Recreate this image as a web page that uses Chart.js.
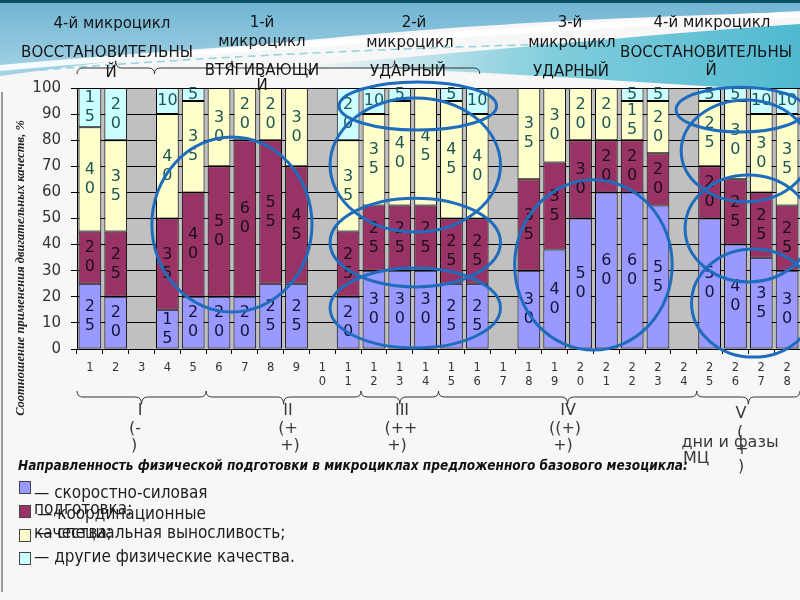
<!DOCTYPE html>
<html>
<head>
<meta charset="utf-8">
<script src="https://cdn.jsdelivr.net/npm/chart.js@4.4.1/dist/chart.umd.min.js"></script>
<style>
  html, body { margin: 0; padding: 0; }
  body { width: 800px; height: 600px; position: relative; overflow: hidden; background: #f7f7f7; font-family: "DejaVu Sans", sans-serif; }
  #bg { position: absolute; left: 0; top: 0; }
  #frame { position: absolute; left: 1px; top: 92px; width: 0; height: 500px; border-left: 2px solid #9a9a9a; }
  #chart { position: absolute; left: 0; top: 0; }
  .t { position: absolute; white-space: nowrap; transform: translate(-50%, -50%); font-size: 15px; color: #151515; line-height: 1; }
  .b { position: absolute; white-space: nowrap; transform: translateY(-50%); line-height: 1; }
  .ph { color: #3a3a3a; font-size: 16px; }
  #ytitle { position: absolute; left: 20px; top: 268px; transform: translate(-50%, -50%) rotate(-90deg); white-space: nowrap;
            font: bold italic 12.5px "Liberation Serif", serif; color: #222; }
  #note { left: 18px; top: 465px; font: bold italic 13.5px "Liberation Sans Narrow", "DejaVu Sans Condensed", sans-serif; color: #111; }
  .lg { font: 17px "DejaVu Sans Condensed", "DejaVu Sans", sans-serif; color: #1e1e1e; }
  .sw { position: absolute; width: 10px; height: 11px; border: 1px solid #444; }
</style>
</head>
<body>
<svg id="bg" width="800" height="100">
  <defs>
    <linearGradient id="g1" x1="0" y1="0" x2="0" y2="1">
      <stop offset="0" stop-color="#6fb3d2"/>
      <stop offset="1" stop-color="#a6d4e6"/>
    </linearGradient>
    <linearGradient id="g2" x1="0" y1="0" x2="1" y2="0">
      <stop offset="0" stop-color="#6cc6d8" stop-opacity="0"/>
      <stop offset="0.5" stop-color="#6cc6d8" stop-opacity="0.85"/>
      <stop offset="1" stop-color="#4fb9d0"/>
    </linearGradient>
  </defs>
  <path d="M0,0 H800 V12 C600,18 450,26 330,38 C200,50 100,62 0,76 Z" fill="url(#g1)"/>
  <path d="M300,66 C480,52 650,34 800,24 V92 C700,86 560,76 420,70 C370,68 330,67 300,66 Z" fill="url(#g2)"/>
  <path d="M0,68 C200,50 450,34 800,14" stroke="#ffffff" stroke-width="6" fill="none" opacity="0.9"/>
  <path d="M40,70 C220,56 400,48 560,44" stroke="#8fd3dc" stroke-width="1.5" stroke-dasharray="8 5" fill="none"/>
  <rect x="0" y="0" width="800" height="3" fill="#0d4d63"/>
</svg>
<div id="frame"></div>
<canvas id="chart" width="800" height="600"></canvas>

<div class="t" style="left:112px;top:23px">4-й микроцикл</div>
<div class="t" style="left:107px;top:52px">ВОССТАНОВИТЕЛЬНЫ</div>
<div class="t" style="left:111px;top:72px">Й</div>
<div class="t" style="left:262px;top:22px">1-й</div>
<div class="t" style="left:262px;top:41px">микроцикл</div>
<div class="t" style="left:262px;top:70px">ВТЯГИВАЮЩИ</div>
<div class="t" style="left:262px;top:85px">Й</div>
<div class="t" style="left:414px;top:22px">2-й</div>
<div class="t" style="left:410px;top:42px">микроцикл</div>
<div class="t" style="left:408px;top:71px">УДАРНЫЙ</div>
<div class="t" style="left:570px;top:22px">3-й</div>
<div class="t" style="left:572px;top:42px">микроцикл</div>
<div class="t" style="left:571px;top:71px">УДАРНЫЙ</div>
<div class="t" style="left:712px;top:22px">4-й микроцикл</div>
<div class="t" style="left:706px;top:52px">ВОССТАНОВИТЕЛЬНЫ</div>
<div class="t" style="left:711px;top:70px">Й</div>

<div class="t ph" style="left:140px;top:410px">I</div>
<div class="t ph" style="left:135px;top:428px">(-</div>
<div class="t ph" style="left:134px;top:445px">)</div>
<div class="t ph" style="left:288px;top:410px">II</div>
<div class="t ph" style="left:288px;top:428px">(+</div>
<div class="t ph" style="left:290px;top:445px">+)</div>
<div class="t ph" style="left:402px;top:410px">III</div>
<div class="t ph" style="left:401px;top:428px">(++</div>
<div class="t ph" style="left:397px;top:445px">+)</div>
<div class="t ph" style="left:568px;top:410px">IV</div>
<div class="t ph" style="left:565px;top:428px">((+)</div>
<div class="t ph" style="left:563px;top:445px">+)</div>
<div class="t ph" style="left:741px;top:413px">V</div>
<div class="t ph" style="left:740px;top:432px">(</div>
<div class="t ph" style="left:742px;top:449px">+</div>
<div class="t ph" style="left:741px;top:466px">)</div>
<div class="t ph" style="left:730px;top:442px">дни и фазы</div>
<div class="b ph" style="left:683px;top:458px">МЦ</div>

<div id="ytitle">Соотношение применения двигательных качеств, %</div>
<div class="b" id="note">Направленность физической подготовки в микроциклах предложенного базового мезоцикла:</div>

<div class="sw" id="sw0" style="left:19px;top:481px"></div>
<div class="sw" id="sw1" style="left:19px;top:505px"></div>
<div class="sw" id="sw2" style="left:19px;top:529px"></div>
<div class="sw" id="sw3" style="left:19px;top:552px"></div>
<div class="b lg" style="left:34px;top:492px">— скоростно-силовая</div>
<div class="b lg" style="left:34px;top:508px">подготовка;</div>
<div class="b lg" style="left:37px;top:513px">— координационные</div>
<div class="b lg" style="left:34px;top:532px">качества;</div>
<div class="b lg" style="left:37px;top:532px">— специальная выносливость;</div>
<div class="b lg" style="left:34px;top:556px">— другие физические качества.</div>

<script>
// days of the base mesocycle (rest days are empty)
const days = ["1","2","3","4","5","6","7","8","9","10","11","12","13","14",
              "15","16","17","18","19","20","21","22","23","24","25","26","27","28"];

const speedStrength = [25,20,null,15,20,20,20,25,25,null,20,30,30,30,25,25,null,30,40,50,60,60,55,null,50,40,35,30];
const coordination  = [20,25,null,35,40,50,60,55,45,null,25,25,25,25,25,25,null,35,35,30,20,20,20,null,20,25,25,25];
const endurance     = [40,35,null,40,35,30,20,20,30,null,35,35,40,45,45,40,null,35,30,20,20,15,20,null,25,30,30,35];
const otherQual     = [15,20,null,10,5,null,null,null,null,null,20,10,5,null,5,10,null,null,null,null,null,5,5,null,5,5,10,10];

const seriesNames = ["скоростно-силовая подготовка", "координационные качества", "специальная выносливость", "другие физические качества"];
const seriesColors = ["#9999ff", "#993366", "#ffffcc", "#ccffff"];
const labelColors = ["#14143a", "#1a0f1a", "#1d5656", "#1d5656"];
const yTicks = [0,10,20,30,40,50,60,70,80,90,100];

// phases under the axis (day ranges) and microcycle braces above the plot
const phases = [[0.5, 5.5], [5.5, 11.5], [11.5, 14.5], [14.5, 24.5], [24.5, 28.5]];
const cycles = [[0.5, 3.5], [3.5, 9.5], [9.5, 16.1]];

// hand-drawn highlight ovals: [day, value, half-width in days, half-height in %]
const ovals = [
  [6.5, 47.7, 3.1, 33.5],
  [13.7, 93.1, 3.05, 9.2],
  [13.6, 70.5, 3.3, 25.7],
  [13.6, 40.8, 3.3, 17],
  [13.6, 15.7, 3.3, 15.3],
  [20.5, 32.2, 3.05, 32.6],
  [26.2, 91.7, 2.5, 8.6],
  [26.4, 75.9, 2.5, 19.5],
  [26.5, 46.2, 2.45, 20.5],
  [26.7, 17.6, 2.4, 20.7]
];

const raw = [speedStrength, coordination, endurance, otherQual];
const totals = days.map((d, i) => raw.reduce((s, arr) => s + (arr[i] || 0), 0));

seriesColors.forEach((c, i) => { document.getElementById("sw" + i).style.background = c; });

const plotBg = {
  id: "plotBg",
  beforeDraw(chart) {
    const { ctx, chartArea: a } = chart;
    ctx.save();
    ctx.fillStyle = "#c0c0c0";
    ctx.fillRect(a.left, a.top, a.right - a.left, a.bottom - a.top);
    ctx.restore();
  }
};

const valueLabels = {
  id: "valueLabels",
  afterDatasetsDraw(chart) {
    const ctx = chart.ctx;
    ctx.save();
    ctx.font = "16px 'DejaVu Sans'";
    ctx.textAlign = "center";
    ctx.textBaseline = "middle";
    chart.data.datasets.forEach((ds, di) => {
      chart.getDatasetMeta(di).data.forEach((bar, i) => {
        const v = raw[di][i];
        if (!v) return;
        const h = bar.base - bar.y;
        const lines = h < 30 ? [String(v)] : String(v).split("");
        const cy = (bar.y + bar.base) / 2;
        ctx.fillStyle = labelColors[di];
        lines.forEach((ln, k) => ctx.fillText(ln, bar.x, cy + (k - (lines.length - 1) / 2) * 19));
      });
    });
    ctx.restore();
  }
};

function brace(ctx, x1, x2, y, dir) {
  const xm = (x1 + x2) / 2, c = 6 * dir;
  ctx.beginPath();
  ctx.moveTo(x1, y - c);
  ctx.quadraticCurveTo(x1, y, x1 + 6, y);
  ctx.lineTo(xm - 6, y);
  ctx.quadraticCurveTo(xm, y, xm, y + c * 1.2);
  ctx.quadraticCurveTo(xm, y, xm + 6, y);
  ctx.lineTo(x2 - 6, y);
  ctx.quadraticCurveTo(x2, y, x2, y - c);
  ctx.stroke();
}

const extras = {
  id: "extras",
  afterDraw(chart) {
    const ctx = chart.ctx, xs = chart.scales.x, ys = chart.scales.y;
    const px = d => xs.getPixelForValue(d - 1);
    const dayW = px(2) - px(1);
    const unitH = ys.getPixelForValue(0) - ys.getPixelForValue(1);
    ctx.save();
    ctx.strokeStyle = "#333";
    ctx.lineWidth = 1;
    phases.forEach(p => brace(ctx, px(p[0]), px(p[1]), 397, 1));
    cycles.forEach(p => brace(ctx, px(p[0]), px(p[1]), 68, -1));
    ctx.strokeStyle = "#1f6cbd";
    ctx.lineWidth = 3;
    ovals.forEach(o => {
      ctx.beginPath();
      ctx.ellipse(px(o[0]), ys.getPixelForValue(o[1]), o[2] * dayW, o[3] * unitH, 0, 0, Math.PI * 2);
      ctx.stroke();
    });
    ctx.restore();
  }
};

new Chart(document.getElementById("chart"), {
  type: "bar",
  data: {
    labels: days,
    datasets: raw.map((arr, k) => ({
      label: seriesNames[k],
      data: arr.map((v, i) => (v == null ? null : v / totals[i] * 100)),
      backgroundColor: seriesColors[k],
      borderColor: "#000",
      borderWidth: 1,
      borderSkipped: false,
      barPercentage: 0.88,
      categoryPercentage: 1
    }))
  },
  options: {
    responsive: false,
    animation: false,
    devicePixelRatio: 1,
    layout: { padding: { top: 88, left: 0, right: 0, bottom: 0 } },
    plugins: { legend: { display: false }, tooltip: { enabled: false } },
    scales: {
      x: {
        stacked: true,
        afterFit: s => { s.height = 251; },
        grid: { drawOnChartArea: false, offset: true, color: "#000", tickLength: 5 },
        border: { color: "#000" },
        ticks: {
          autoSkip: false, maxRotation: 0, padding: 7, color: "#333",
          font: { family: "DejaVu Sans", size: 11.5 },
          callback: (v, i) => days[i].length > 1 ? days[i].split("") : days[i]
        }
      },
      y: {
        stacked: true,
        min: 0, max: 100,
        afterFit: s => { s.width = 77; },
        afterBuildTicks: s => { s.ticks = yTicks.map(v => ({ value: v })); },
        grid: { color: "#000", tickLength: 6, tickColor: "#000" },
        border: { color: "#000" },
        ticks: { padding: 10, color: "#333", font: { family: "DejaVu Sans", size: 15 } }
      }
    }
  },
  plugins: [plotBg, valueLabels, extras]
});
</script>
</body>
</html>
